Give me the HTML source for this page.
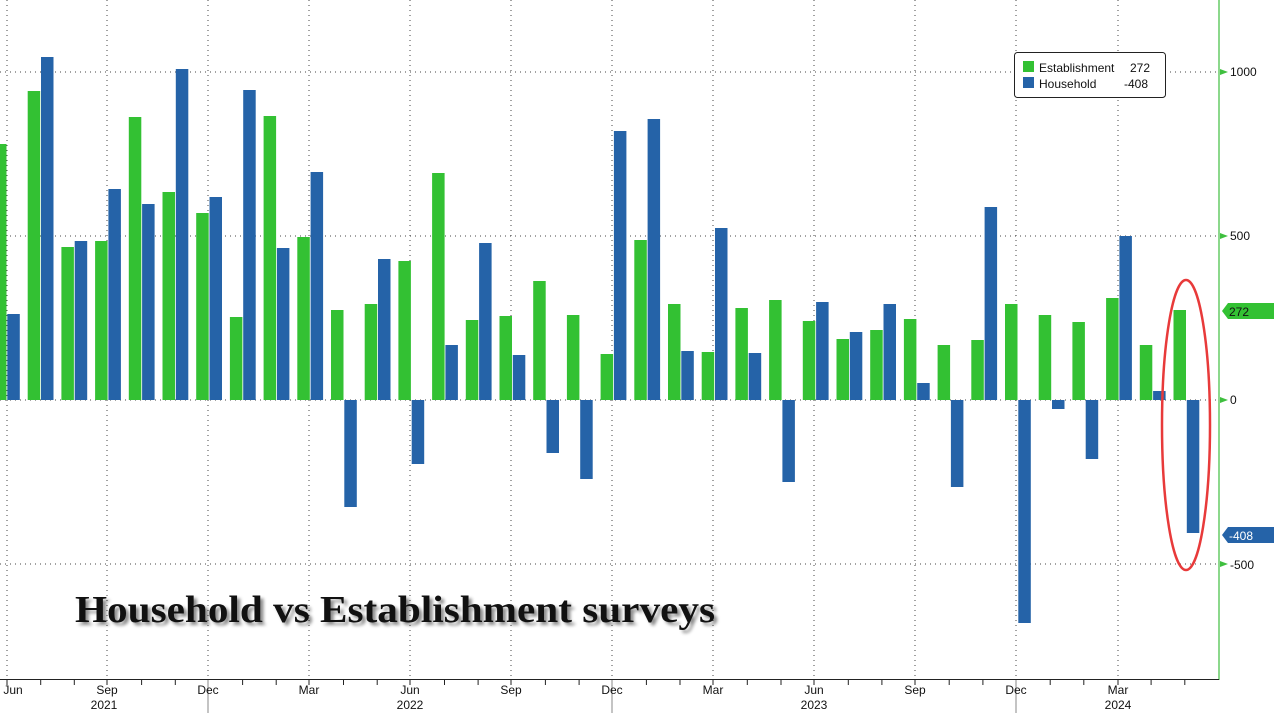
<!DOCTYPE html>
<html><head><meta charset="utf-8"><style>
html,body{margin:0;padding:0;background:#fff;}
svg{display:block;font-family:"Liberation Sans",sans-serif;}
</style></head><body>
<svg width="1274" height="713" viewBox="0 0 1274 713" xmlns="http://www.w3.org/2000/svg">
<g stroke="#444" stroke-width="1" stroke-dasharray="1,4">
<line x1="0" y1="72" x2="1219" y2="72"/>
<line x1="0" y1="236" x2="1219" y2="236"/>
<line x1="0" y1="400" x2="1219" y2="400"/>
<line x1="0" y1="564" x2="1219" y2="564"/>
<line x1="7" y1="0" x2="7" y2="679"/><line x1="107" y1="0" x2="107" y2="679"/>
<line x1="208" y1="0" x2="208" y2="679"/><line x1="309" y1="0" x2="309" y2="679"/>
<line x1="410" y1="0" x2="410" y2="679"/><line x1="511" y1="0" x2="511" y2="679"/>
<line x1="612" y1="0" x2="612" y2="679"/><line x1="713" y1="0" x2="713" y2="679"/>
<line x1="814" y1="0" x2="814" y2="679"/><line x1="915" y1="0" x2="915" y2="679"/>
<line x1="1016" y1="0" x2="1016" y2="679"/><line x1="1118" y1="0" x2="1118" y2="679"/>
</g>
<g fill="#33c133">
<rect x="-6" y="144" width="12.5" height="256"/>
<rect x="27.7" y="91" width="12.5" height="309"/>
<rect x="61.4" y="247" width="12.5" height="153"/>
<rect x="95.1" y="241" width="12.5" height="159"/>
<rect x="128.8" y="117" width="12.5" height="283"/>
<rect x="162.5" y="192" width="12.5" height="208"/>
<rect x="196.2" y="213" width="12.5" height="187"/>
<rect x="229.9" y="317" width="12.5" height="83"/>
<rect x="263.6" y="116" width="12.5" height="284"/>
<rect x="297.3" y="237" width="12.5" height="163"/>
<rect x="331.0" y="310" width="12.5" height="90"/>
<rect x="364.7" y="304" width="12.5" height="96"/>
<rect x="398.4" y="261" width="12.5" height="139"/>
<rect x="432.1" y="173" width="12.5" height="227"/>
<rect x="465.8" y="320" width="12.5" height="80"/>
<rect x="499.5" y="316" width="12.5" height="84"/>
<rect x="533.2" y="281" width="12.5" height="119"/>
<rect x="566.9" y="315" width="12.5" height="85"/>
<rect x="600.6" y="354" width="12.5" height="46"/>
<rect x="634.3" y="240" width="12.5" height="160"/>
<rect x="668.0" y="304" width="12.5" height="96"/>
<rect x="701.7" y="352" width="12.5" height="48"/>
<rect x="735.4" y="308" width="12.5" height="92"/>
<rect x="769.1" y="300" width="12.5" height="100"/>
<rect x="802.8" y="321" width="12.5" height="79"/>
<rect x="836.5" y="339" width="12.5" height="61"/>
<rect x="870.2" y="330" width="12.5" height="70"/>
<rect x="903.9" y="319" width="12.5" height="81"/>
<rect x="937.6" y="345" width="12.5" height="55"/>
<rect x="971.3" y="340" width="12.5" height="60"/>
<rect x="1005.0" y="304" width="12.5" height="96"/>
<rect x="1038.7" y="315" width="12.5" height="85"/>
<rect x="1072.4" y="322" width="12.5" height="78"/>
<rect x="1106.1" y="298" width="12.5" height="102"/>
<rect x="1139.8" y="345" width="12.5" height="55"/>
<rect x="1173.5" y="310" width="12.5" height="90"/>
</g>
<g fill="#2563a8">
<rect x="7.3" y="314" width="12.5" height="86"/>
<rect x="41.0" y="57" width="12.5" height="343"/>
<rect x="74.7" y="241" width="12.5" height="159"/>
<rect x="108.4" y="189" width="12.5" height="211"/>
<rect x="142.1" y="204" width="12.5" height="196"/>
<rect x="175.8" y="69" width="12.5" height="331"/>
<rect x="209.5" y="197" width="12.5" height="203"/>
<rect x="243.2" y="90" width="12.5" height="310"/>
<rect x="276.9" y="248" width="12.5" height="152"/>
<rect x="310.6" y="172" width="12.5" height="228"/>
<rect x="344.3" y="400" width="12.5" height="107"/>
<rect x="378.0" y="259" width="12.5" height="141"/>
<rect x="411.7" y="400" width="12.5" height="64"/>
<rect x="445.4" y="345" width="12.5" height="55"/>
<rect x="479.1" y="243" width="12.5" height="157"/>
<rect x="512.8" y="355" width="12.5" height="45"/>
<rect x="546.5" y="400" width="12.5" height="53"/>
<rect x="580.2" y="400" width="12.5" height="79"/>
<rect x="613.9" y="131" width="12.5" height="269"/>
<rect x="647.6" y="119" width="12.5" height="281"/>
<rect x="681.3" y="351" width="12.5" height="49"/>
<rect x="715.0" y="228" width="12.5" height="172"/>
<rect x="748.7" y="353" width="12.5" height="47"/>
<rect x="782.4" y="400" width="12.5" height="82"/>
<rect x="816.1" y="302" width="12.5" height="98"/>
<rect x="849.8" y="332" width="12.5" height="68"/>
<rect x="883.5" y="304" width="12.5" height="96"/>
<rect x="917.2" y="383" width="12.5" height="17"/>
<rect x="950.9" y="400" width="12.5" height="87"/>
<rect x="984.6" y="207" width="12.5" height="193"/>
<rect x="1018.3" y="400" width="12.5" height="223"/>
<rect x="1052.0" y="400" width="12.5" height="9"/>
<rect x="1085.7" y="400" width="12.5" height="59"/>
<rect x="1119.4" y="236" width="12.5" height="164"/>
<rect x="1153.1" y="391" width="12.5" height="9"/>
<rect x="1186.8" y="400" width="12.5" height="133"/>
</g>
<line x1="1219" y1="0" x2="1219" y2="680" stroke="#3fbf3f" stroke-width="1.2"/>
<line x1="0" y1="679.5" x2="1219" y2="679.5" stroke="#222" stroke-width="1"/>
<g stroke="#222" stroke-width="1">
<line x1="7" y1="680" x2="7" y2="685"/><line x1="40.7" y1="680" x2="40.7" y2="685"/><line x1="74.3" y1="680" x2="74.3" y2="685"/>
<line x1="107" y1="680" x2="107" y2="685"/><line x1="141.6" y1="680" x2="141.6" y2="685"/><line x1="175.3" y1="680" x2="175.3" y2="685"/>
<line x1="208" y1="680" x2="208" y2="685"/><line x1="242.6" y1="680" x2="242.6" y2="685"/><line x1="276.2" y1="680" x2="276.2" y2="685"/>
<line x1="309" y1="680" x2="309" y2="685"/><line x1="343.5" y1="680" x2="343.5" y2="685"/><line x1="377.2" y1="680" x2="377.2" y2="685"/>
<line x1="410" y1="680" x2="410" y2="685"/><line x1="444.5" y1="680" x2="444.5" y2="685"/><line x1="478.1" y1="680" x2="478.1" y2="685"/>
<line x1="511" y1="680" x2="511" y2="685"/><line x1="545.4" y1="680" x2="545.4" y2="685"/><line x1="579.1" y1="680" x2="579.1" y2="685"/>
<line x1="612" y1="680" x2="612" y2="685"/><line x1="646.4" y1="680" x2="646.4" y2="685"/><line x1="680" y1="680" x2="680" y2="685"/>
<line x1="713" y1="680" x2="713" y2="685"/><line x1="747.3" y1="680" x2="747.3" y2="685"/><line x1="781" y1="680" x2="781" y2="685"/>
<line x1="814" y1="680" x2="814" y2="685"/><line x1="848.3" y1="680" x2="848.3" y2="685"/><line x1="881.9" y1="680" x2="881.9" y2="685"/>
<line x1="915" y1="680" x2="915" y2="685"/><line x1="949.2" y1="680" x2="949.2" y2="685"/><line x1="982.9" y1="680" x2="982.9" y2="685"/>
<line x1="1016" y1="680" x2="1016" y2="685"/><line x1="1050.2" y1="680" x2="1050.2" y2="685"/><line x1="1083.8" y1="680" x2="1083.8" y2="685"/>
<line x1="1118" y1="680" x2="1118" y2="685"/><line x1="1151.1" y1="680" x2="1151.1" y2="685"/><line x1="1184.8" y1="680" x2="1184.8" y2="685"/>
</g>
<line x1="208" y1="680" x2="208" y2="713" stroke="#888"/>
<line x1="612" y1="680" x2="612" y2="713" stroke="#888"/>
<line x1="1016" y1="680" x2="1016" y2="713" stroke="#888"/>
<g font-size="12" fill="#111" text-anchor="middle">
<text x="13" y="694">Jun</text><text x="107" y="694">Sep</text><text x="208" y="694">Dec</text><text x="309" y="694">Mar</text>
<text x="410" y="694">Jun</text><text x="511" y="694">Sep</text><text x="612" y="694">Dec</text><text x="713" y="694">Mar</text>
<text x="814" y="694">Jun</text><text x="915" y="694">Sep</text><text x="1016" y="694">Dec</text><text x="1118" y="694">Mar</text>
<text x="104" y="709">2021</text><text x="410" y="709">2022</text><text x="814" y="709">2023</text><text x="1118" y="709">2024</text>
</g>
<g fill="#3fbf3f">
<polygon points="1220,69 1228,72 1220,75"/><polygon points="1220,233 1228,236 1220,239"/>
<polygon points="1220,397 1228,400 1220,403"/><polygon points="1220,561 1228,564 1220,567"/>
</g>
<g font-size="12" fill="#111">
<text x="1230" y="76">1000</text><text x="1230" y="240">500</text><text x="1230" y="404">0</text><text x="1230" y="569">-500</text>
</g>
<polygon points="1222,311 1228,303 1274,303 1274,319 1228,319" fill="#33c133"/>
<text x="1229" y="316" font-size="12" fill="#111">272</text>
<polygon points="1222,535 1228,527 1274,527 1274,543 1228,543" fill="#2563a8"/>
<text x="1229" y="540" font-size="12" fill="#fff">-408</text>
<rect x="1014.5" y="52.5" width="151" height="45" rx="3" fill="#fff" stroke="#222"/>
<rect x="1023" y="61" width="11" height="11" fill="#33c133"/>
<rect x="1023" y="77" width="11" height="11" fill="#2563a8"/>
<g font-size="12" fill="#111"><text x="1039" y="72">Establishment</text><text x="1130" y="72">272</text>
<text x="1039" y="88">Household</text><text x="1124" y="88">-408</text></g>
<ellipse cx="1186" cy="425" rx="24" ry="145" fill="none" stroke="#e83a3a" stroke-width="2.5"/>
<text x="75" y="622" font-family="'Liberation Serif',serif" font-weight="bold" font-size="38" textLength="640" lengthAdjust="spacingAndGlyphs" fill="#111" style="text-shadow:3px 3px 3px rgba(0,0,0,0.45)">Household vs Establishment surveys</text>
</svg>
</body></html>
